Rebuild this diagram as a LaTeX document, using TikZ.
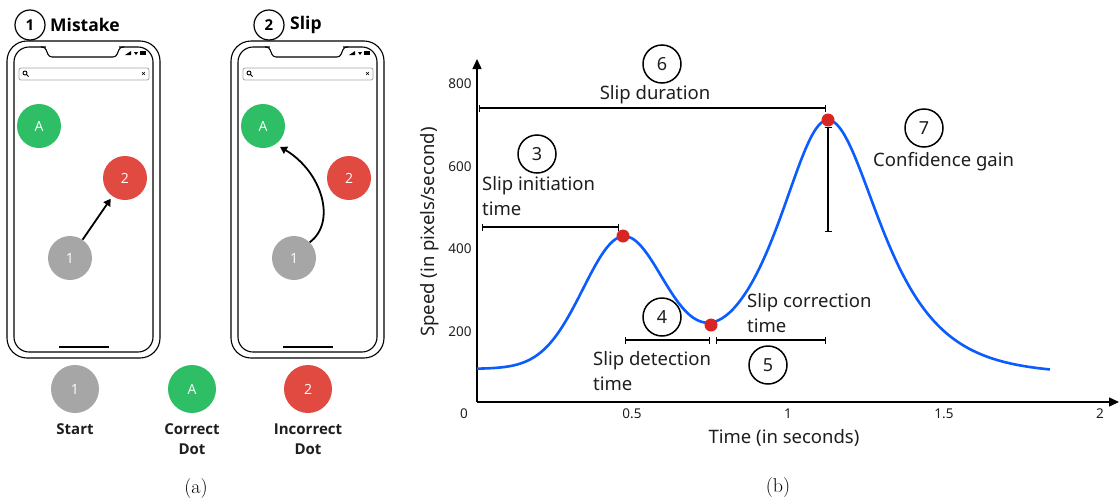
\documentclass[tikz,border=0pt]{standalone}
\usepackage{fontspec}
\newfontfamily\osans{Noto Sans}
\newfontfamily\lsans{Open Sans}
\usetikzlibrary{arrows.meta}
\definecolor{dgreen}{HTML}{2EBE66}
\definecolor{dred}{HTML}{E04A40}
\definecolor{dgray}{HTML}{A6A6A6}
\definecolor{cblue}{HTML}{0A5CFF}
\definecolor{pred}{HTML}{D92424}
\definecolor{ink}{HTML}{1E1E1E}
\tikzset{
 dot/.style={circle,minimum size=44pt,inner sep=0pt,text=white,font=\lsans\fontsize{14}{14}\selectfont},
 numc/.style={circle,draw=black,line width=1.5pt,minimum size=38pt,inner sep=0pt,text=ink,font=\osans\fontsize{18}{18}\selectfont},
 titc/.style={circle,draw=black,line width=1.2pt,minimum size=30pt,inner sep=0pt,font=\lsans\bfseries\fontsize{15}{15}\selectfont},
 titl/.style={anchor=west,inner sep=0pt,font=\lsans\bfseries\fontsize{17.5}{17.5}\selectfont},
 lbl/.style={inner sep=0pt,align=left,text=ink,font=\osans\fontsize{18.5}{25}\selectfont},
 ticklbl/.style={inner sep=0pt,text=ink,font=\osans\fontsize{13.5}{13.5}\selectfont},
 leglbl/.style={inner sep=0pt,align=center,text=ink,font=\lsans\bfseries\fontsize{15}{20}\selectfont},
 dimline/.style={line width=1.2pt,{Bar[width=7pt]}-{Bar[width=7pt]}},
 reddot/.style={circle,fill=pred,minimum size=13pt,inner sep=0pt},
 capt/.style={font=\fontsize{20}{20}\selectfont},
 phone/.pic={
  \draw[line width=1.1pt,rounded corners=20pt] (7,41) rectangle (160,358);
  \draw[line width=1.1pt,rounded corners=15pt] (14,47) rectangle (153,352);
  \draw[white,line width=3pt] (46,47) -- (119,47);
  \draw[line width=1.1pt,rounded corners=3pt] (41,47) -- (45,47) -- (49,57) -- (116,57) -- (120,47) -- (124,47);
  \fill (125,55) -- (131,55) -- (131,51) -- cycle;
  \fill (134,52) -- (138,52) -- (136,55) -- cycle;
  \fill (140,51) rectangle (146,55);
  \draw[gray!70,line width=0.8pt,rounded corners=2pt] (19,68) rectangle (149,80);
  \draw[line width=0.9pt] (25,73) circle (2pt);
  \draw[line width=1pt] (26.5,74.5) -- (28.5,76.5);
  \draw[line width=0.6pt] (142,72) -- (145,75) (142,75) -- (145,72);
  \draw[line width=1.6pt] (59,347) -- (109,347);
  \node[dot,fill=dgreen] (A) at (39,126) {A};
  \node[dot,fill=dred] (two) at (125,178) {2};
  \node[dot,fill=dgray] (one) at (70,258) {1};
 }
}
\begin{document}
\begin{tikzpicture}[x=1pt,y=-1pt]
\useasboundingbox[fill=white] (0,0) rectangle (1120,501);
% ---------- panel (a)
\pic (P) at (0,0) {phone};
\pic (Q) at (224,0) {phone};
\draw[line width=1.8pt,-{Triangle[length=7pt,width=8pt]},shorten >=3pt] (Pone) -- (Ptwo);
\draw[line width=1.8pt,-{Triangle[length=7pt,width=8pt]},shorten >=5pt] (Qone.45) .. controls (337,222) and (322,172) .. (QA.-55);
\node[titc] (t1) at (30,25) {1};
\node[titl] (t1l) at (50,25) {Mistake};
\node[titc] (t2) at (269,25) {2};
\node[titl] (t2l) at (290,25) {Slip};
\node[dot,fill=dgray,minimum size=48pt] (lg1) at (75,389) {1};
\node[dot,fill=dgreen,minimum size=48pt] (lgA) at (192,389) {A};
\node[dot,fill=dred,minimum size=48pt] (lg2) at (308,389) {2};
\node[leglbl] (lg1l) at (75,429) {Start};
\node[leglbl] (lgAl) at (192,439) {Correct\\Dot};
\node[leglbl] (lg2l) at (308,439) {Incorrect\\Dot};
\node[capt] (capa) at (196,489) {(a)};
% ---------- panel (b)
\coordinate (O) at (477,402);
\coordinate (ytop) at (477,59);
\coordinate (xend) at (1119,402);
\draw[line width=1.4pt,-{Triangle[length=10pt,width=9pt]}] (O) -- (ytop);
\draw[line width=1.4pt,-{Triangle[length=10pt,width=9pt]}] (O) -- (xend);
\node[ticklbl] (y8) at (460,84) {800};
\node[ticklbl] (y6) at (460,167) {600};
\node[ticklbl] (y4) at (460,249) {400};
\node[ticklbl] (y2) at (460,332) {200};
\node[ticklbl] (x0) at (464,414) {0};
\node[ticklbl] (x05) at (632,414) {0.5};
\node[ticklbl] (x1) at (788,414) {1};
\node[ticklbl] (x15) at (944,414) {1.5};
\node[ticklbl] (x2) at (1100,414) {2};
\node[lbl,rotate=90] (ylab) at (430,232) {Speed (in pixels/second)};
\node[lbl] (xlab) at (784,438) {Time (in seconds)};
\draw[cblue,line width=2.6pt] plot[smooth,domain=477:1050,samples=160] (\x,{369 + 5/(1+exp(-(\x-850)/50)) - 128*exp(-((\x-623)/57)^2) - 251/cosh((\x-828)/(\x<828?44:47))});
\node[reddot] (pk1) at (623,236) {};
\node[reddot] (mn) at (711,325) {};
\node[reddot] (pk2) at (828,120) {};
\coordinate (d6a) at (479,108); \coordinate (d6b) at (826,108);
\coordinate (d3a) at (482,227); \coordinate (d3b) at (619,227);
\coordinate (d4a) at (625,340); \coordinate (d4b) at (710,340);
\coordinate (d5a) at (716,340); \coordinate (d5b) at (826,340);
\coordinate (d7b) at (828,232);
\draw[dimline] (d6a) -- (d6b);
\draw[dimline] (d3a) -- (d3b);
\draw[dimline] (d4a) -- (d4b);
\draw[dimline] (d5a) -- (d5b);
\draw[dimline] (pk2.south) -- (d7b);
\node[numc] (n6) at (662,64) {6};
\node[lbl] (l6) at (655,95) {Slip duration};
\node[numc] (n3) at (537,154) {3};
\node[lbl,anchor=west] (l3) at (482,196) {Slip initiation\\time};
\node[numc] (n4) at (662,317) {4};
\node[lbl,anchor=west] (l4) at (593,371) {Slip detection\\time};
\node[numc] (n5) at (768,365) {5};
\node[lbl,anchor=west] (l5) at (747,313) {Slip correction\\time};
\node[numc] (n7) at (924,128) {7};
\node[lbl,anchor=west] (l7) at (873,162) {Confidence gain};
\node[capt] (capb) at (778,488) {(b)};
\end{tikzpicture}
\end{document}
